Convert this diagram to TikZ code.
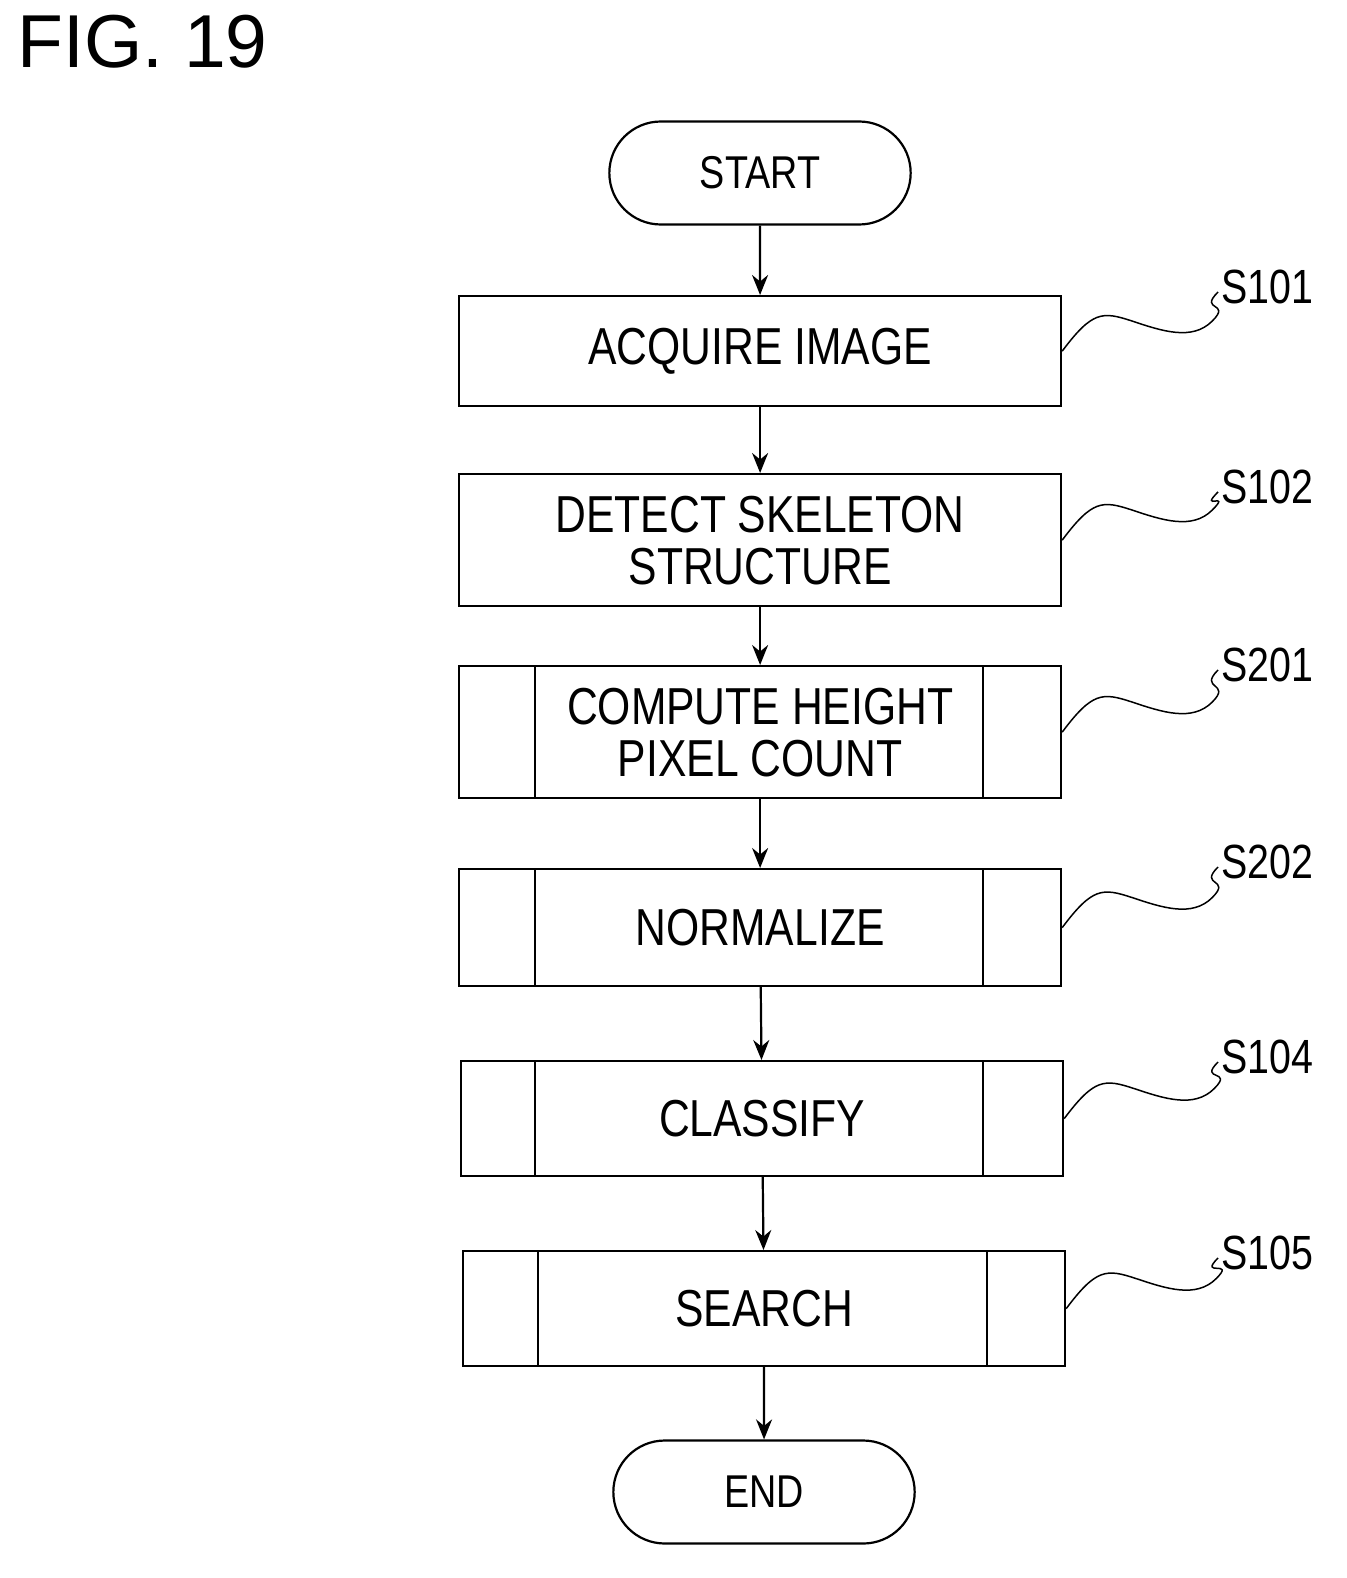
\documentclass[tikz,border=0pt]{standalone}
\usepackage{fontspec}
\setmainfont{Liberation Sans}
\newfontfamily\narrowf{Liberation Sans}[FakeStretch=0.82]
\usetikzlibrary{arrows.meta,shapes.misc}
\begin{document}
\begin{tikzpicture}[x=1pt,y=-1pt,
  box/.style={draw,line width=2.2pt,minimum width=602pt,anchor=north west,inner sep=0pt,font=\narrowf\fontsize{52}{52}\selectfont,align=center},
  term/.style={draw,line width=2.2pt,rounded rectangle,minimum width=308pt,minimum height=103pt,font=\narrowf\fontsize{46}{48}\selectfont},
  lab/.style={font=\narrowf\fontsize{48}{50}\selectfont,anchor=west},
  arr/.style={line width=2.2pt,-{Stealth[length=20pt,width=16pt]}},
  wav/.style={line width=1.5pt}]
\useasboundingbox (0,0) rectangle (1346,1578);
\node[font=\fontsize{75}{78}\selectfont,anchor=north west] (fig) at (14,12) {FIG. 19};
\node[term] (st) at (760,173) {START};
\node[box,minimum height=110pt] (a) at (458,295) {ACQUIRE IMAGE};
\node[box,minimum height=132pt] (b) at (458,473) {DETECT SKELETON\\STRUCTURE};
\node[box,minimum height=132pt] (c) at (458,665) {COMPUTE HEIGHT\\PIXEL COUNT};
\node[box,minimum height=117pt] (d) at (458,868) {NORMALIZE};
\node[box,minimum height=115pt] (e) at (460,1060) {CLASSIFY};
\node[box,minimum height=115pt] (f) at (462,1250) {SEARCH};
\node[term] (en) at (764,1492) {END};
\foreach \n/\l/\r in {c/535/983,d/535/983,e/535/983,f/538/987}{
  \draw[line width=2.2pt] (\l,0 |- \n.north) -- (\l,0 |- \n.south);
  \draw[line width=2.2pt] (\r,0 |- \n.north) -- (\r,0 |- \n.south);}
\draw[arr] (st) -- (a);
\draw[arr] (a) -- (b);
\draw[arr] (b) -- (c);
\draw[arr] (c) -- (d);
\draw[arr] (d) -- (e);
\draw[arr] (e) -- (f);
\draw[arr] (f) -- (en);
\foreach \n/\t/\y in {a/S101/287,b/S102/487,c/S201/665,d/S202/862,e/S104/1057,f/S105/1253}{
  \node[lab] (l\n) at (1218,\y) {\t};
  \coordinate (w\n) at (1218,\y+5);
  \draw[wav] (\n.east) .. controls +(30,-40) and +(-30,-10) .. ++(70,-30) .. controls +(30,10) and +(-20,20) .. ++(80,-0) .. controls +(20,-20) and +(-20,20) .. (w\n);}
\end{tikzpicture}
\end{document}
